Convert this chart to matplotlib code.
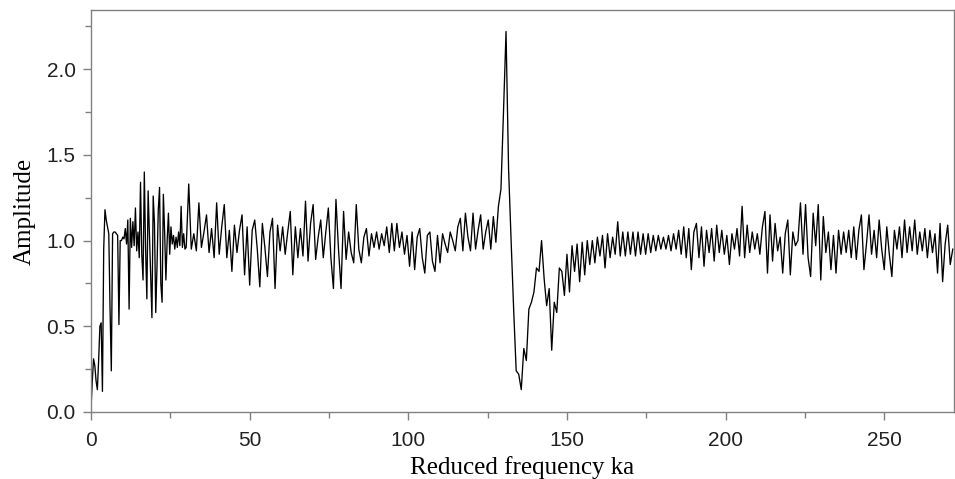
import numpy as np
import matplotlib
matplotlib.use("Agg")
import matplotlib.pyplot as plt
from matplotlib.ticker import MultipleLocator

# -----------------------------
# Data
# -----------------------------

# low-frequency part, sampled every 0.4 ka starting at 0
ka_start_low = 0.0
ka_step_low = 0.4
amp_low = [
    0.02, 0.18, 0.31, 0.27, 0.18, 0.13, 0.30, 0.50, 0.52, 0.12,
    0.95, 1.18, 1.12, 1.08, 1.04, 0.60, 0.24, 1.04, 1.05, 1.05,
    1.04, 1.03, 0.51, 1.00, 1.00, 1.02, 1.01, 1.07, 0.98, 1.12,
    0.60, 1.13, 0.96, 1.11, 0.97, 1.19, 0.94, 1.05, 0.90, 1.34,
    0.92, 0.77, 1.40, 0.95, 0.66, 1.29, 1.05, 0.80, 0.55, 1.26,
    1.10, 0.58, 0.85, 1.18, 1.31, 0.75, 0.64, 1.27, 1.05, 0.77,
    1.00, 1.16, 0.92, 1.08, 0.98, 1.03, 0.95, 1.02, 0.96, 1.05,
    0.97, 1.20, 0.96, 1.04, 0.95,
]

# rest of the curve, sampled every 0.8 ka starting at 30
ka_start_high = 30.0
ka_step_high = 0.8
amp_high = [
    0.96, 1.33, 0.95, 1.04, 0.94, 1.22, 0.96, 1.05, 1.15, 0.93,  # 30
    1.07, 0.90, 1.22, 0.92, 1.08, 1.21, 0.90, 1.06, 0.82, 1.09,  # 38
    0.93, 1.06, 1.15, 0.80, 1.08, 0.74, 1.06, 1.12, 0.95, 0.73,  # 46
    1.10, 0.96, 0.79, 1.05, 1.13, 0.72, 1.09, 0.94, 1.08, 0.92,  # 54
    1.05, 1.17, 0.80, 1.08, 0.90, 1.07, 0.91, 1.23, 0.88, 1.10,  # 62
    1.21, 0.89, 1.02, 1.12, 0.90, 1.05, 1.19, 0.90, 0.72, 1.24,  # 70
    0.95, 0.72, 1.17, 0.89, 1.05, 0.93, 0.87, 1.21, 0.95, 0.87,  # 78
    1.02, 1.07, 0.91, 1.04, 0.96, 1.05, 0.95, 1.04, 0.97, 1.08,  # 86
    0.93, 1.10, 0.94, 1.10, 0.96, 1.05, 0.92, 1.03, 0.85, 1.05,  # 94
    0.83, 1.02, 1.07, 0.90, 0.81, 1.03, 1.05, 0.88, 0.82, 1.03,  # 102
    0.87, 1.04, 0.98, 0.93, 1.05, 1.00, 0.94, 1.08, 1.13, 0.94,  # 110
    1.16, 1.02, 0.94, 1.16, 0.95, 1.06, 1.15, 0.95, 1.05, 1.12,  # 118
    0.95, 1.14, 0.99, 1.20, 1.30, 1.75, 2.22, 1.42, 1.00, 0.60,  # 126
    0.24, 0.22, 0.13, 0.37, 0.30, 0.60, 0.64, 0.70, 0.84, 0.82,  # 134
    1.00, 0.78, 0.62, 0.72, 0.36, 0.64, 0.58, 0.84, 0.82, 0.68,  # 142
    0.92, 0.70, 0.97, 0.82, 0.98, 0.76, 0.99, 0.80, 1.00, 0.86,  # 150
    1.00, 0.87, 1.02, 0.91, 1.03, 0.84, 1.04, 0.90, 1.02, 0.92,  # 158
    1.11, 0.91, 1.05, 0.91, 1.05, 0.92, 1.05, 0.91, 1.05, 0.92,  # 166
    1.04, 0.92, 1.04, 0.93, 1.03, 0.94, 1.03, 0.95, 1.02, 0.95,  # 174
    1.03, 0.94, 1.04, 0.95, 1.06, 0.92, 1.08, 0.90, 1.07, 0.83,  # 182
    1.05, 1.10, 0.90, 1.08, 0.85, 1.06, 0.93, 1.07, 0.88, 1.09,  # 190
    0.93, 1.06, 0.92, 1.03, 0.86, 1.04, 0.95, 1.07, 0.91, 1.20,  # 198
    0.90, 1.09, 0.93, 1.05, 0.95, 1.04, 0.92, 1.08, 1.17, 0.81,  # 206
    1.15, 0.88, 1.10, 0.94, 1.02, 0.81, 1.04, 1.12, 0.80, 1.05,  # 214
    0.97, 1.00, 1.22, 0.92, 1.21, 0.90, 0.79, 1.16, 0.97, 1.21,  # 222
    0.77, 1.14, 0.93, 1.05, 0.83, 1.03, 0.81, 1.06, 0.92, 1.05,  # 230
    0.93, 1.06, 0.90, 1.08, 0.89, 1.06, 1.15, 0.83, 0.98, 1.15,  # 238
    0.92, 1.06, 0.90, 1.12, 0.95, 0.83, 1.08, 0.92, 0.79, 1.06,  # 246
    0.95, 1.08, 0.90, 1.12, 0.93, 1.08, 0.94, 1.12, 0.92, 1.05,  # 254
    0.94, 1.07, 0.90, 1.06, 0.93, 1.04, 0.81, 1.10, 0.76, 0.98,  # 262
    1.09, 0.86, 0.95,                                            # 270
]

x_ticks = [0, 50, 100, 150, 200, 250]
y_ticks = [0.0, 0.5, 1.0, 1.5, 2.0]

# -----------------------------
# Plot
# -----------------------------

ka_low = ka_start_low + ka_step_low * np.arange(len(amp_low))
ka_high = ka_start_high + ka_step_high * np.arange(len(amp_high))
ka = np.concatenate([ka_low, ka_high])
amp = np.concatenate([amp_low, amp_high])

fig = plt.figure(figsize=(9.55, 4.79), dpi=100)
ax = fig.add_axes([0.0953, 0.140, 0.9037, 0.839])

ax.plot(ka, amp, color="black", lw=0.95)

ax.set_xlim(0, 272)
ax.set_ylim(0, 2.345)
ax.set_xticks(x_ticks)
ax.set_yticks(y_ticks)
ax.set_yticklabels([f"{v:.1f}" for v in y_ticks])
ax.xaxis.set_minor_locator(MultipleLocator(25))
ax.yaxis.set_minor_locator(MultipleLocator(0.25))

grey = "#808080"
for s in ax.spines.values():
    s.set_color(grey)
    s.set_linewidth(1.0)
ax.tick_params(which="both", direction="out", color=grey, top=False, right=False)
ax.tick_params(which="major", length=6, width=1.0, labelsize=15, pad=5)
ax.tick_params(axis="x", which="major", pad=8)
ax.tick_params(which="minor", length=4, width=1.0)
for lab in ax.get_xticklabels() + ax.get_yticklabels():
    lab.set_family("Liberation Sans")
    lab.set_color("#222222")

ax.set_xlabel("Reduced frequency ka", family="Liberation Serif", fontsize=18, labelpad=4)
ax.set_ylabel("Amplitude", family="Liberation Serif", fontsize=18, labelpad=8)

fig.savefig("out.png", dpi=100)
plt.close(fig)
